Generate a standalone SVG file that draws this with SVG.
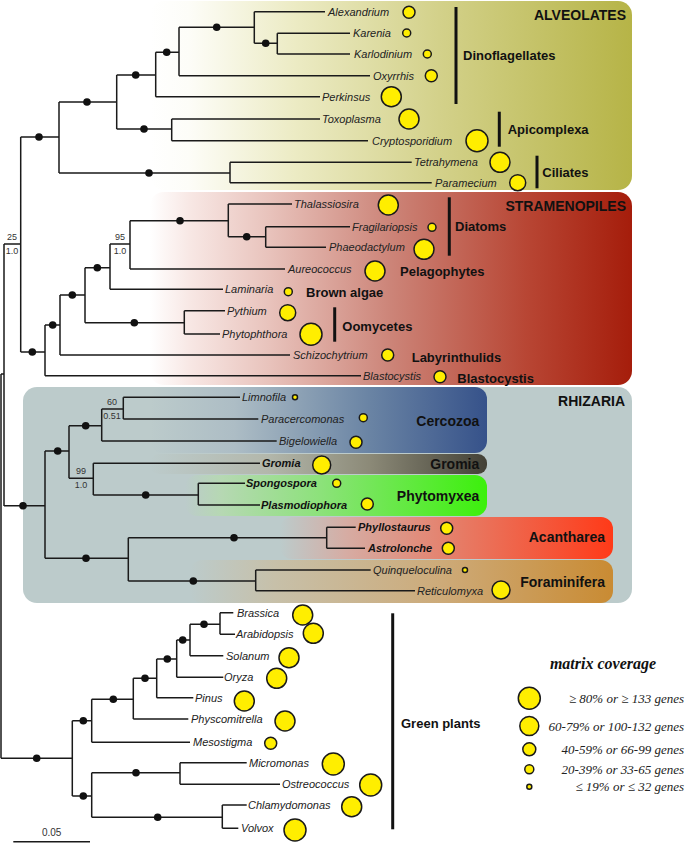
<svg xmlns="http://www.w3.org/2000/svg" width="685" height="843" viewBox="0 0 685 843">
<defs>
<linearGradient id="gAlv" gradientUnits="userSpaceOnUse" x1="150" y1="0" x2="632" y2="0">
<stop offset="0" stop-color="#ffffff"/><stop offset="0.08" stop-color="#fdfdf8"/><stop offset="0.3" stop-color="#ecebc4"/><stop offset="0.6" stop-color="#d3d18a"/><stop offset="1" stop-color="#b6b447"/>
</linearGradient>
<linearGradient id="gStr" gradientUnits="userSpaceOnUse" x1="150" y1="0" x2="632" y2="0">
<stop offset="0" stop-color="#ffffff"/><stop offset="0.08" stop-color="#f8e8e5"/><stop offset="0.25" stop-color="#e8c2bb"/><stop offset="0.5" stop-color="#cc8478"/><stop offset="0.78" stop-color="#b84634"/><stop offset="1" stop-color="#a51d0b"/>
</linearGradient>
<linearGradient id="gCer" gradientUnits="userSpaceOnUse" x1="150" y1="0" x2="487" y2="0">
<stop offset="0" stop-color="#bccbcb"/><stop offset="0.25" stop-color="#adbdc5"/><stop offset="0.65" stop-color="#6a84a4"/><stop offset="1" stop-color="#36528a"/>
</linearGradient>
<linearGradient id="gGro" gradientUnits="userSpaceOnUse" x1="150" y1="0" x2="487" y2="0">
<stop offset="0" stop-color="#bccbcb"/><stop offset="0.35" stop-color="#b3b7ab"/><stop offset="0.65" stop-color="#8c8a78"/><stop offset="1" stop-color="#434136"/>
</linearGradient>
<linearGradient id="gPhy" gradientUnits="userSpaceOnUse" x1="185" y1="0" x2="487" y2="0">
<stop offset="0" stop-color="#bccbcb"/><stop offset="0.12" stop-color="#b6d8b3"/><stop offset="0.45" stop-color="#8ce27a"/><stop offset="1" stop-color="#3cf00c"/>
</linearGradient>
<linearGradient id="gAca" gradientUnits="userSpaceOnUse" x1="280" y1="0" x2="613" y2="0">
<stop offset="0" stop-color="#bccbcb"/><stop offset="0.2" stop-color="#d6aca3"/><stop offset="0.55" stop-color="#e77a64"/><stop offset="1" stop-color="#ff3a18"/>
</linearGradient>
<linearGradient id="gFor" gradientUnits="userSpaceOnUse" x1="190" y1="0" x2="613" y2="0">
<stop offset="0" stop-color="#bccbcb"/><stop offset="0.2" stop-color="#c7c0a9"/><stop offset="0.6" stop-color="#cdaa78"/><stop offset="1" stop-color="#c98b33"/>
</linearGradient>
</defs>
<style>
.br{fill:none;stroke:#1a1a1a;stroke-width:1.5}
.bar{stroke:#111;stroke-width:3}
.dot{fill:#111}
.cov{fill:#ffee00;stroke:#1a1a1a;stroke-width:1.5}
.tx{font-family:"Liberation Sans",Arial,sans-serif;font-style:italic;font-size:11px;fill:#222}
.tb{font-family:"Liberation Sans",Arial,sans-serif;font-style:italic;font-weight:bold;font-size:11px;fill:#111}
.grp{font-family:"Liberation Sans",Arial,sans-serif;font-weight:bold;font-size:13px;fill:#111}
.big{font-family:"Liberation Sans",Arial,sans-serif;font-weight:bold;font-size:14px;fill:#111}
.sup{font-family:"Liberation Sans",Arial,sans-serif;font-size:9px;fill:#333;text-anchor:middle}
.leg{font-family:"Liberation Serif","Times New Roman",serif;font-style:italic;font-size:13px;fill:#222;text-anchor:end}
</style>

<g id="boxes">
<rect x="150" y="1" width="482" height="189" rx="14" fill="url(#gAlv)"/>
<rect x="150" y="192" width="482" height="193" rx="14" fill="url(#gStr)"/>
<rect x="23" y="387" width="609" height="216" rx="14" fill="#bccbcb"/>
<rect x="150" y="387" width="337" height="66" rx="12" fill="url(#gCer)"/>
<rect x="150" y="454" width="337" height="20" rx="9" fill="url(#gGro)"/>
<rect x="185" y="475" width="302" height="41" rx="12" fill="url(#gPhy)"/>
<rect x="280" y="517" width="333" height="42" rx="12" fill="url(#gAca)"/>
<rect x="190" y="560" width="423" height="43" rx="12" fill="url(#gFor)"/>
</g>

<g id="connectors">
<path class="br" d="M4,244 V506 M1,374 H4 M1,374 V758.3 M4,244 H20.7 M20.7,137 V352
M20.7,137 H59 M59,102 V173 M59,102 H116.7 M116.7,75 V129 M116.7,75 H155.7 M155.7,52.3 V96.7 M155.7,52.3 H179 M179,27.3 V75.7 M179,27.3 H254.3 M254.3,11.7 V43.3 M254.3,43.3 H277.3 M277.3,33.3 V54
M254.3,11.7 H325 M277.3,33.3 H350 M277.3,54 H350 M179,75.7 H370 M155.7,96.7 H320
M116.7,129 H171.7 M171.7,119 V140.7 M171.7,119 H320 M171.7,140.7 H368
M59,173 H230 M230,162.3 V182.7 M230,162.3 H411.7 M230,182.7 H431.7
M20.7,352 H45 M45,325 V375.7 M45,375.7 H361 M45,325 H60 M60,295 V355 M60,355 H290 M60,295 H85 M85,267.7 V322.7 M85,267.7 H110 M110,244 V289.3 M110,289.3 H223 M110,244 H130 M130,220.7 V269 M130,269 H285 M130,220.7 H228.3 M228.3,204 V236.7 M228.3,204 H292 M228.3,236.7 H265.7 M265.7,226.7 V247.3 M265.7,226.7 H350 M265.7,247.3 H326 M85,322.7 H184.3 M184.3,310.7 V334 M184.3,310.7 H225 M184.3,334 H220
M4,505.7 H45 M45,451 V558.3 M45,451 H69 M69,425.7 V478.3 M69,425.7 H101.7 M101.7,409 V441 M101.7,441 H276.7 M101.7,409 H123.3 M123.3,397.3 V419 M123.3,397.3 H240 M123.3,419 H258.3 M69,478.3 H93.3 M93.3,463.3 V495 M93.3,463.3 H260 M93.3,495 H198.3 M198.3,483.3 V505 M198.3,483.3 H245 M198.3,505 H260 M45,558.3 H128.3 M128.3,537.7 V581 M128.3,537.7 H326.7 M326.7,527.3 V548.3 M326.7,527.3 H355.7 M326.7,548.3 H365 M128.3,581 H255.7 M255.7,570 V590.7 M255.7,570 H370.7 M255.7,590.7 H415
M1,758.3 H72.3 M72.3,720.7 V796 M72.3,720.7 H91.7 M91.7,699.3 V742.3 M91.7,742.3 H190 M91.7,699.3 H133.3 M133.3,678.3 V719 M133.3,719 H188.3 M133.3,678.3 H156.7 M156.7,659 V697.7 M156.7,697.7 H193.3 M156.7,659 H176.7 M176.7,640 V677.3 M176.7,677.3 H223.3 M176.7,640 H190 M190,624.3 V655.7 M190,655.7 H223.3 M190,624.3 H220 M220,612.7 V634.3 M220,612.7 H233.3 M220,634.3 H235 M72.3,796 H91.7 M91.7,772.7 V817.3 M91.7,772.7 H180 M180,762.7 V784.3 M180,762.7 H246.7 M180,784.3 H280 M91.7,817.3 H222.3 M222.3,805 V828.3 M222.3,805 H246.7 M222.3,828.3 H238.3"/>
<g class="dot">
<circle cx="39" cy="137" r="3.8"/><circle cx="87" cy="102" r="3.8"/><circle cx="135.7" cy="75" r="3.8"/><circle cx="166.7" cy="52.3" r="3.8"/><circle cx="216.7" cy="27.3" r="3.8"/><circle cx="265.7" cy="43.3" r="3.8"/><circle cx="144" cy="129" r="3.8"/><circle cx="149" cy="173" r="3.8"/>
<circle cx="32.3" cy="352" r="3.8"/><circle cx="52.7" cy="325" r="3.8"/><circle cx="72.3" cy="295" r="3.8"/><circle cx="97.3" cy="267.7" r="3.8"/><circle cx="180" cy="220.7" r="3.8"/><circle cx="246.7" cy="236.7" r="3.8"/><circle cx="134.3" cy="322.7" r="3.8"/>
<circle cx="23" cy="505.7" r="3.8"/><circle cx="57.7" cy="451" r="3.8"/><circle cx="85.7" cy="425.7" r="3.8"/><circle cx="145.7" cy="495" r="3.8"/><circle cx="86" cy="558.3" r="3.8"/><circle cx="234" cy="537.7" r="3.8"/><circle cx="193.3" cy="581" r="3.8"/>
<circle cx="36.7" cy="758.3" r="3.8"/><circle cx="83.3" cy="720.7" r="3.8"/><circle cx="113.3" cy="699.3" r="3.8"/><circle cx="145" cy="678.3" r="3.8"/><circle cx="167.3" cy="659" r="3.8"/><circle cx="182.7" cy="640" r="3.8"/><circle cx="204" cy="624.3" r="3.8"/><circle cx="83.3" cy="796" r="3.8"/><circle cx="136" cy="772.7" r="3.8"/><circle cx="157.7" cy="817.3" r="3.8"/>
</g>
<text class="sup" x="12" y="240">25</text><text class="sup" x="12" y="254">1.0</text>
<text class="sup" x="120" y="240">95</text><text class="sup" x="120" y="254">1.0</text>
<text class="sup" x="112" y="405">60</text><text class="sup" x="112" y="419">0.51</text>
<text class="sup" x="81" y="474">99</text><text class="sup" x="81" y="488">1.0</text>
</g>

<g id="taxa-alveolates">
<g id="alexandrium"><text class="tx" x="328" y="15.7">Alexandrium</text><circle class="cov" cx="409" cy="12.3" r="6"/></g>
<g id="karenia"><text class="tx" x="353" y="37.3">Karenia</text><circle class="cov" cx="406.7" cy="33" r="4"/></g>
<g id="karlodinium"><text class="tx" x="354" y="58">Karlodinium</text><circle class="cov" cx="427.3" cy="54" r="4"/></g>
<g id="oxyrrhis"><text class="tx" x="373" y="79.7">Oxyrrhis</text><circle class="cov" cx="431.3" cy="75.7" r="6"/></g>
<g id="perkinsus"><text class="tx" x="322" y="100.7">Perkinsus</text><circle class="cov" cx="391.3" cy="96.7" r="10"/></g>
<g id="toxoplasma"><text class="tx" x="322" y="123">Toxoplasma</text><circle class="cov" cx="409" cy="119" r="10"/></g>
<g id="cryptosporidium"><text class="tx" x="372" y="144.7">Cryptosporidium</text><circle class="cov" cx="477" cy="140.7" r="11"/></g>
<g id="tetrahymena"><text class="tx" x="414" y="166.3">Tetrahymena</text><circle class="cov" cx="500" cy="162.3" r="10"/></g>
<g id="paramecium"><text class="tx" x="435" y="186.7">Paramecium</text><circle class="cov" cx="517.7" cy="182.7" r="8"/></g>
</g>

<g id="taxa-stramenopiles">
<g id="thalassiosira"><text class="tx" x="294" y="208">Thalassiosira</text><circle class="cov" cx="388.3" cy="205" r="10"/></g>
<g id="fragilariopsis"><text class="tx" x="352" y="230.7">Fragilariopsis</text><circle class="cov" cx="432" cy="227.3" r="4"/></g>
<g id="phaeodactylum"><text class="tx" x="329" y="251.3">Phaeodactylum</text><circle class="cov" cx="424" cy="249.3" r="10"/></g>
<g id="aureococcus"><text class="tx" x="288" y="273">Aureococcus</text><circle class="cov" cx="375" cy="271" r="10"/></g>
<g id="laminaria"><text class="tx" x="225" y="293.3">Laminaria</text><circle class="cov" cx="288.3" cy="291.7" r="4"/></g>
<g id="pythium"><text class="tx" x="227" y="314.7">Pythium</text><circle class="cov" cx="287.7" cy="312.7" r="8"/></g>
<g id="phytophthora"><text class="tx" x="222" y="338">Phytophthora</text><circle class="cov" cx="311" cy="334.3" r="11"/></g>
<g id="schizochytrium"><text class="tx" x="293" y="359">Schizochytrium</text><circle class="cov" cx="387.7" cy="355" r="6"/></g>
<g id="blastocystis"><text class="tx" x="363" y="379.7">Blastocystis</text><circle class="cov" cx="440" cy="376.7" r="6"/></g>
</g>

<g id="taxa-rhizaria">
<g id="limnofila"><text class="tx" x="242" y="401.3">Limnofila</text><circle class="cov" cx="295" cy="397.3" r="2.5"/></g>
<g id="paracercomonas"><text class="tx" x="261" y="423">Paracercomonas</text><circle class="cov" cx="363.3" cy="417.7" r="4"/></g>
<g id="bigelowiella"><text class="tx" x="279" y="445">Bigelowiella</text><circle class="cov" cx="356" cy="442.3" r="6"/></g>
<g id="gromia-taxon"><text class="tb" x="262" y="467.3">Gromia</text><circle class="cov" cx="321.7" cy="465" r="9"/></g>
<g id="spongospora"><text class="tb" x="246" y="487.3">Spongospora</text><circle class="cov" cx="336.7" cy="483.3" r="4"/></g>
<g id="plasmodiophora"><text class="tb" x="261" y="509">Plasmodiophora</text><circle class="cov" cx="367.3" cy="504" r="6"/></g>
<g id="phyllostaurus"><text class="tb" x="358" y="531.3">Phyllostaurus</text><circle class="cov" cx="446.7" cy="528.3" r="6"/></g>
<g id="astrolonche"><text class="tb" x="368" y="552.3">Astrolonche</text><circle class="cov" cx="448.3" cy="548.3" r="6"/></g>
<g id="quinqueloculina"><text class="tx" x="373" y="574">Quinqueloculina</text><circle class="cov" cx="465" cy="570" r="2.5"/></g>
<g id="reticulomyxa"><text class="tx" x="417" y="594.7">Reticulomyxa</text><circle class="cov" cx="501" cy="590" r="9"/></g>
</g>

<g id="taxa-plants">
<g id="brassica"><text class="tx" x="237" y="616.7">Brassica</text><circle class="cov" cx="302.7" cy="615" r="10"/></g>
<g id="arabidopsis"><text class="tx" x="236" y="638.3">Arabidopsis</text><circle class="cov" cx="313.3" cy="633.3" r="10"/></g>
<g id="solanum"><text class="tx" x="226" y="659.7">Solanum</text><circle class="cov" cx="289" cy="657.7" r="10"/></g>
<g id="oryza"><text class="tx" x="224" y="681.3">Oryza</text><circle class="cov" cx="276.7" cy="678.3" r="10"/></g>
<g id="pinus"><text class="tx" x="195" y="701.7">Pinus</text><circle class="cov" cx="244.3" cy="701" r="10"/></g>
<g id="physcomitrella"><text class="tx" x="191" y="723">Physcomitrella</text><circle class="cov" cx="285" cy="721" r="10"/></g>
<g id="mesostigma"><text class="tx" x="193" y="746.3">Mesostigma</text><circle class="cov" cx="270.7" cy="743.3" r="6"/></g>
<g id="micromonas"><text class="tx" x="249" y="766.7">Micromonas</text><circle class="cov" cx="333.3" cy="764" r="11"/></g>
<g id="ostreococcus"><text class="tx" x="282" y="788.3">Ostreococcus</text><circle class="cov" cx="370.7" cy="785" r="11"/></g>
<g id="chlamydomonas"><text class="tx" x="248" y="809">Chlamydomonas</text><circle class="cov" cx="351.7" cy="806.7" r="10"/></g>
<g id="volvox"><text class="tx" x="241" y="832.3">Volvox</text><circle class="cov" cx="295" cy="830" r="11"/></g>
</g>

<g id="group-labels">
<text class="big" x="626" y="20" text-anchor="end">ALVEOLATES</text>
<line class="bar" x1="456" y1="7" x2="456" y2="104"/><text class="grp" x="463" y="60">Dinoflagellates</text>
<line class="bar" x1="499.3" y1="111.7" x2="499.3" y2="146.7"/><text class="grp" x="507.7" y="133.5">Apicomplexa</text>
<line class="bar" x1="537" y1="155.7" x2="537" y2="188.3"/><text class="grp" x="542.3" y="177">Ciliates</text>
<text class="big" x="626" y="211" text-anchor="end">STRAMENOPILES</text>
<line class="bar" x1="449.3" y1="197.3" x2="449.3" y2="255.7"/><text class="grp" x="455" y="230.5">Diatoms</text>
<text class="grp" x="400" y="275.5">Pelagophytes</text>
<text class="grp" x="306" y="296.5">Brown algae</text>
<line class="bar" x1="334.7" y1="307.3" x2="334.7" y2="341.7"/><text class="grp" x="342.3" y="330.5">Oomycetes</text>
<text class="grp" x="411.7" y="361.5">Labyrinthulids</text>
<text class="grp" x="457.3" y="383">Blastocystis</text>
<text class="big" x="625" y="405.7" text-anchor="end">RHIZARIA</text>
<text class="big" x="479.3" y="426" text-anchor="end">Cercozoa</text>
<text class="big" x="479.3" y="469.3" text-anchor="end">Gromia</text>
<text class="big" x="479.3" y="500.7" text-anchor="end">Phytomyxea</text>
<text class="big" x="605" y="541.7" text-anchor="end">Acantharea</text>
<text class="big" x="605" y="586.7" text-anchor="end">Foraminifera</text>
<line class="bar" x1="392.7" y1="613.3" x2="392.7" y2="829.3"/><text class="grp" x="401" y="727.5">Green plants</text>
</g>

<g id="scale-bar">
<line x1="13.3" y1="841.7" x2="90" y2="841.7" stroke="#1a1a1a" stroke-width="1.5"/>
<text class="sup" x="51.7" y="836" style="font-size:10px">0.05</text>
</g>

<g id="legend">
<text x="603" y="669" text-anchor="middle" style="font-family:'Liberation Serif','Times New Roman',serif;font-style:italic;font-weight:bold;font-size:16px;fill:#111">matrix coverage</text>
<circle class="cov" cx="529.3" cy="698.3" r="11"/><text class="leg" x="684" y="703">≥ 80% or ≥ 133 genes</text>
<circle class="cov" cx="529.3" cy="726" r="9.5"/><text class="leg" x="684" y="730.5">60-79% or 100-132 genes</text>
<circle class="cov" cx="529.3" cy="749.3" r="6.5"/><text class="leg" x="684" y="754">40-59% or 66-99 genes</text>
<circle class="cov" cx="529.3" cy="769.3" r="4.5"/><text class="leg" x="684" y="774">20-39% or 33-65 genes</text>
<circle class="cov" cx="529.3" cy="786.7" r="2.5"/><text class="leg" x="684" y="791">≤ 19% or ≤ 32 genes</text>
</g>
</svg>
